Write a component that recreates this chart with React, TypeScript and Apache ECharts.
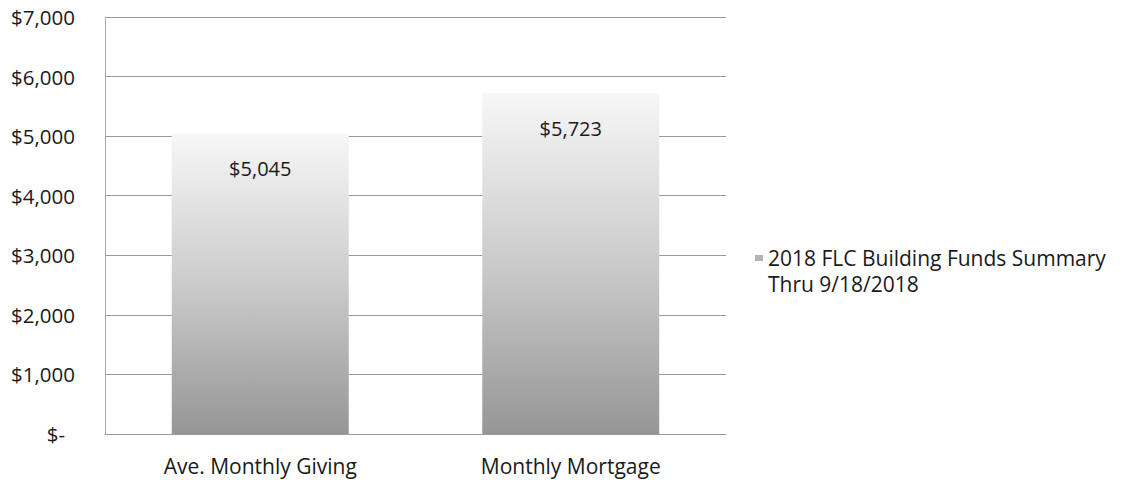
import React, { useEffect, useRef } from "react";
import * as echarts from "echarts";

const categories = ["Ave. Monthly Giving", "Monthly Mortgage"];
const values = [5045, 5723];
const seriesName = "2018 FLC Building Funds Summary\nThru 9/18/2018";
const yMax = 7000;
const yInterval = 1000;

const FONT = "'Open Sans', Lato, sans-serif";

export default function App() {
  const ref = useRef<HTMLDivElement>(null);
  useEffect(() => {
    if (!ref.current) return;
    const chart = echarts.init(ref.current, null, { renderer: "svg" });
    chart.setOption({
      animation: false,
      backgroundColor: "#ffffff",
      textStyle: { fontFamily: FONT },
      grid: { left: 105, right: 416, top: 17, bottom: 46, containLabel: false },
      legend: {
        show: true,
        left: 750,
        top: 240,
        orient: "vertical",
        icon: "path://M0,0L8,0L8,6L0,6Z M0,32L0.01,32L0,32Z",
        itemWidth: 8,
        itemHeight: 32,
        itemGap: 6,
        itemStyle: { color: "#b4b4b4" },
        textStyle: { fontSize: 21, color: "#1a1a1a", fontFamily: FONT, lineHeight: 26 },
        data: [seriesName],
      },
      xAxis: {
        type: "category",
        data: categories,
        axisLine: { show: true, lineStyle: { color: "#9a9a9a", width: 1 } },
        axisTick: { show: false },
        axisLabel: { fontSize: 21, color: "#1a1a1a", margin: 21, fontFamily: FONT },
      },
      yAxis: {
        type: "value",
        min: 0,
        max: yMax,
        interval: yInterval,
        axisLine: { show: true, lineStyle: { color: "#a8a8a8", width: 1 } },
        axisTick: { show: false },
        splitLine: { show: true, lineStyle: { color: "#9a9a9a", width: 1 } },
        axisLabel: {
          fontSize: 20.5,
          color: "#1a1a1a",
          margin: 30,
          fontFamily: FONT,
          formatter: (v: number) =>
            v === 0 ? "{z|$-}" : "$" + v.toLocaleString("en-US"),
          rich: { z: { fontSize: 20.5, color: "#1a1a1a", fontFamily: FONT, padding: [0, 10, 0, 0] } },
        },
      },
      series: [
        {
          name: seriesName,
          type: "bar",
          data: values,
          barCategoryGap: "43%",
          itemStyle: {
            color: new echarts.graphic.LinearGradient(0, 0, 0, 1, [
              { offset: 0, color: "#f7f7f7" },
              { offset: 0.5, color: "#cbcbcb" },
              { offset: 1, color: "#969696" },
            ]),
          },
          label: {
            show: true,
            position: "insideTop",
            distance: 25,
            fontSize: 20,
            color: "#1a1a1a",
            fontFamily: FONT,
            formatter: (p: any) => "$" + Number(p.value).toLocaleString("en-US"),
          },
        },
      ],
    });
    return () => chart.dispose();
  }, []);
  return (
    <div
      ref={ref}
      style={{ position: "absolute", left: 0, top: 0, width: 1142, height: 480 }}
    />
  );
}
